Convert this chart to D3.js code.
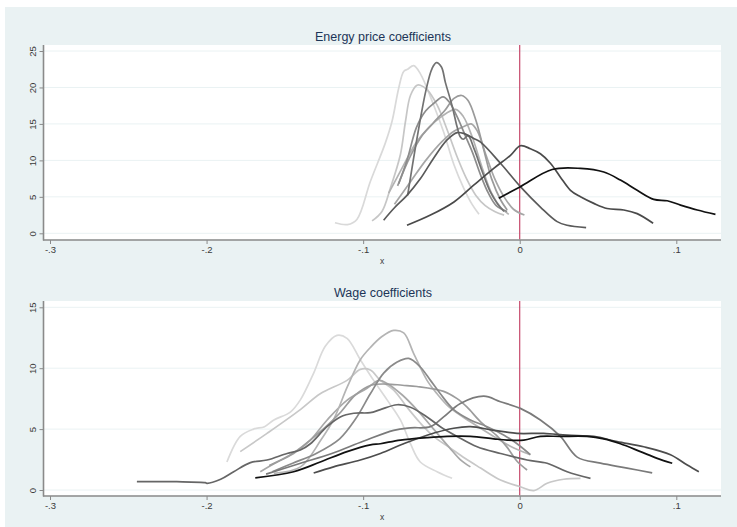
<!DOCTYPE html>
<html>
<head>
<meta charset="utf-8">
<script src="https://cdn.jsdelivr.net/npm/d3@7"></script>
<style>
  body { margin: 0; background: #fff; }
  svg { display: block; font-family: "Liberation Sans", Arial, sans-serif; }
</style>
</head>
<body>
<div id="chart"></div>
<script>
// tick values
const xTicks = [-0.3, -0.2, -0.1, 0, 0.1];
const energyYTicks = [0, 5, 10, 15, 20, 25];
const wageYTicks = [0, 5, 10, 15];

// kernel densities of the energy price coefficients, [x, density]
const energySeries = [
    [[-0.118,1.45],[-0.110,1.2],[-0.104,1.9],[-0.0954,7.1],[-0.0858,12.4],[-0.0815,15.4],[-0.0773,19.9],[-0.0741,22.2],[-0.0716,22.5],[-0.0677,23.0],[-0.0635,21.9],[-0.055,17.6],[-0.0486,13.9],[-0.042,9.4],[-0.0358,6.2],[-0.0304,3.96],[-0.026,2.6]],
    [[-0.0943,1.7],[-0.088,3.0],[-0.0826,6.2],[-0.0762,10.8],[-0.073,15.3],[-0.0698,18.9],[-0.0656,20.3],[-0.0635,20.3],[-0.0592,19.7],[-0.0528,17.6],[-0.046,14],[-0.040,10.5],[-0.034,7.5],[-0.028,5.2],[-0.022,3.8],[-0.016,3.0],[-0.010,2.5]],
    [[-0.0837,5.5],[-0.075,9],[-0.066,12.5],[-0.058,14.5],[-0.050,16],[-0.041,17],[-0.036,16],[-0.030,13],[-0.024,9],[-0.018,5.5],[-0.012,3.5],[-0.007,2.6]],
    [[-0.080,4],[-0.070,7],[-0.060,10],[-0.050,12.5],[-0.042,14],[-0.036,14.6],[-0.031,15],[-0.027,14],[-0.022,11],[-0.016,7.5],[-0.010,5],[-0.004,3.3],[0.003,2.5]],
    [[-0.078,6.5],[-0.070,10.5],[-0.062,13.5],[-0.055,15.2],[-0.048,16.8],[-0.042,18.5],[-0.037,18.9],[-0.033,18.2],[-0.028,15.5],[-0.023,11.5],[-0.018,7.5],[-0.012,4.5],[-0.008,3.2]],
    [[-0.0773,6.8],[-0.072,10],[-0.066,14.5],[-0.060,16.8],[-0.055,17.8],[-0.049,18.7],[-0.045,18],[-0.040,16],[-0.035,13.5],[-0.030,11],[-0.025,8],[-0.020,5.5],[-0.015,3.8],[-0.008,3.0]],
    [[-0.0716,5.2],[-0.068,10],[-0.064,15],[-0.060,19.5],[-0.056,22.6],[-0.0532,23.4],[-0.050,22.8],[-0.0475,20.7],[-0.0432,17.5],[-0.040,14.6],[-0.0379,13.2],[-0.036,12.9],[-0.033,13.4],[-0.029,11.5],[-0.024,8.5],[-0.019,5.8],[-0.014,4.0],[-0.010,3.0]],
    [[-0.0869,1.8],[-0.080,3.5],[-0.072,5.2],[-0.0634,7.5],[-0.055,10.3],[-0.0464,12.8],[-0.040,13.8],[-0.0358,13.7],[-0.0294,13.0],[-0.025,12.5],[-0.0123,9.6],[0.0004,6.4],[0.0132,3.6],[0.0239,1.6],[0.0303,1.1],[0.0424,0.77]],
    [[-0.072,1.1],[-0.057,2.5],[-0.042,4.3],[-0.0294,6.6],[-0.0166,8.9],[-0.0059,10.7],[0.0004,12.0],[0.0068,11.6],[0.0132,10.9],[0.0196,9.6],[0.026,7.7],[0.0324,5.9],[0.0388,5.0],[0.0473,4.1],[0.0558,3.4],[0.0665,3.2],[0.075,2.7],[0.0852,1.37]],
    [[-0.0134,4.8],[0.0004,6.4],[0.0207,8.75],[0.0388,8.9],[0.0537,8.4],[0.0643,7.3],[0.075,5.9],[0.0856,4.65],[0.0942,4.46],[0.1027,3.87],[0.1134,3.2],[0.125,2.6]]
];
const energyGrays = ["#d9d9d9", "#c6c6c6", "#b2b2b2", "#a6a6a6", "#9a9a9a", "#8c8c8c", "#727272", "#5a5a5a", "#4a4a4a", "#111111"];

// kernel densities of the wage coefficients
const wageSeries = [
    [[-0.187,2.3],[-0.1785,4.4],[-0.170,5.0],[-0.163,5.2],[-0.157,5.75],[-0.1465,6.4],[-0.1401,7.4],[-0.1316,9.6],[-0.1242,11.8],[-0.1167,12.7],[-0.1103,12.45],[-0.1018,10.7],[-0.0933,9.0],[-0.0847,7.4],[-0.0762,5.75],[-0.0698,3.8],[-0.0635,2.3],[-0.0528,1.5],[-0.0432,0.96]],
    [[-0.1785,3.15],[-0.1614,4.65],[-0.1401,6.6],[-0.1274,7.9],[-0.1103,9.0],[-0.1018,9.9],[-0.0954,9.85],[-0.089,9.0],[-0.0805,8.2],[-0.072,6.8],[-0.0635,5.5],[-0.055,4.4],[-0.045,3.5],[-0.035,2.6],[-0.025,1.8],[-0.0123,0.82],[0.0004,0.27],[0.009,-0.05],[0.0175,0.55],[0.0281,0.88],[0.0388,0.96]],
    [[-0.1657,1.5],[-0.155,2.3],[-0.1444,3.0],[-0.1337,4.1],[-0.123,5.75],[-0.110,7.4],[-0.0975,8.35],[-0.09,9.0],[-0.0847,8.75],[-0.075,7.8],[-0.065,6.5],[-0.055,5.0],[-0.045,3.5],[-0.038,2.5],[-0.0315,1.9]],
    [[-0.157,1.37],[-0.140,1.9],[-0.127,4.1],[-0.119,5.75],[-0.110,8.5],[-0.1018,10.7],[-0.0954,11.7],[-0.088,12.6],[-0.0805,13.1],[-0.0741,12.9],[-0.0677,11.2],[-0.0592,9.0],[-0.0528,7.9],[-0.045,6.8],[-0.0315,5.6],[-0.0166,4.4],[-0.006,3.6],[0.0068,2.9]],
    [[-0.160,2.0],[-0.145,3.0],[-0.130,4.5],[-0.115,6.3],[-0.105,7.8],[-0.095,8.6],[-0.085,8.7],[-0.075,8.6],[-0.0656,8.5],[-0.0486,8.1],[-0.040,7.5],[-0.0336,6.8],[-0.025,5.6],[-0.015,4.5],[-0.008,3.5],[-0.002,2.4],[0.0047,1.64]],
    [[-0.158,1.5],[-0.145,2.2],[-0.130,3.0],[-0.115,4.2],[-0.105,5.8],[-0.0954,7.9],[-0.0869,9.6],[-0.0783,10.5],[-0.0709,10.8],[-0.0635,10.1],[-0.057,9.0],[-0.0507,7.9],[-0.0422,6.6],[-0.0315,5.75],[-0.0208,5.2],[-0.010,4.5],[-0.0017,3.8],[0.0068,2.9]],
    [[-0.162,1.3],[-0.140,2.2],[-0.120,3.0],[-0.100,4.0],[-0.0805,4.9],[-0.0698,5.1],[-0.057,5.2],[-0.0486,6.0],[-0.0379,7.1],[-0.023,7.7],[-0.0123,7.25],[0.0004,6.7],[0.0132,5.75],[0.026,4.4],[0.0367,2.7],[0.0516,2.2],[0.0686,1.8],[0.0846,1.4]],
    [[-0.2445,0.68],[-0.219,0.68],[-0.2008,0.6],[-0.1998,0.55],[-0.191,0.88],[-0.1827,1.5],[-0.172,2.25],[-0.1614,2.46],[-0.1486,3.0],[-0.1401,3.28],[-0.1337,3.8],[-0.1231,5.2],[-0.1146,6.0],[-0.106,6.3],[-0.0954,6.35],[-0.089,6.6],[-0.0783,7.0],[-0.0698,6.8],[-0.0592,6.0],[-0.0507,5.2],[-0.04,4.4],[-0.0272,3.55],[-0.0123,3.0],[0.0047,2.46],[0.0175,2.2],[0.0303,1.5],[0.0452,0.96]],
    [[-0.1316,1.4],[-0.1189,1.9],[-0.1018,2.46],[-0.089,3.0],[-0.0741,3.8],[-0.0592,4.5],[-0.0422,5.07],[-0.0315,5.2],[-0.0166,4.9],[-0.0017,4.65],[0.0153,4.65],[0.0303,4.5],[0.0473,4.4],[0.0622,3.97],[0.0792,3.55],[0.0963,2.9],[0.107,2.05],[0.1144,1.5]],
    [[-0.1689,1.0],[-0.1444,1.5],[-0.1274,2.3],[-0.1103,3.15],[-0.0954,3.7],[-0.089,3.8],[-0.0762,4.1],[-0.0592,4.3],[-0.0464,4.4],[-0.0315,4.4],[-0.0166,4.2],[-0.008,4.1],[0.0026,4.1],[0.0132,4.4],[0.026,4.4],[0.043,4.4],[0.0537,4.2],[0.0643,3.8],[0.0771,3.15],[0.0878,2.6],[0.0974,2.2]]
];
const wageGrays = ["#dadada", "#c8c8c8", "#a8a8a8", "#b4b4b4", "#9c9c9c", "#8a8a8a", "#7a7a7a", "#666666", "#4d4d4d", "#111111"];

const width = 737, height = 527;
const bg = "#eaf2f3";

const svg = d3.select("#chart").append("svg")
    .attr("width", width)
    .attr("height", height);

svg.append("rect").attr("x", 5).attr("y", 7)
    .attr("width", width - 5).attr("height", height - 7)
    .attr("fill", bg);

// stata style labels: -.3, .1, 0 (plain hyphen)
const stataFmt = v => {
    if (Math.abs(v) < 1e-9) return "0";
    return String(+v.toFixed(2)).replace(/^(-?)0\./, "$1.");
};

const x = d3.scaleLinear().domain([-0.3, 0.1]).range([50, 676.3]);
const plotLeft = 44, plotRight = 721;

function drawPanel(opts) {
    const { title, titleY, top, bottom, y, yTicks, series, grays } = opts;
    const g = svg.append("g");

    g.append("rect")
        .attr("x", plotLeft).attr("y", top)
        .attr("width", plotRight - plotLeft).attr("height", bottom - top)
        .attr("fill", "#fff");

    // grid lines
    g.selectAll(".grid").data(yTicks).join("line")
        .attr("x1", plotLeft).attr("x2", plotRight)
        .attr("y1", d => y(d)).attr("y2", d => y(d))
        .attr("stroke", bg).attr("stroke-width", 1);

    // line at zero
    g.append("line")
        .attr("x1", x(0)).attr("x2", x(0))
        .attr("y1", top).attr("y2", bottom)
        .attr("stroke", "#c0385e").attr("stroke-width", 1.1);

    const line = d3.line()
        .x(d => x(d[0]))
        .y(d => y(d[1]))
        .curve(d3.curveCatmullRom.alpha(0.5));

    g.selectAll(".dens").data(series).join("path")
        .attr("d", line)
        .attr("fill", "none")
        .attr("stroke", (d, i) => grays[i])
        .attr("stroke-width", 1.7)
        .attr("stroke-linejoin", "round");

    // axes
    const yAxis = g.append("g")
        .attr("transform", `translate(${plotLeft - 0.5},0)`)
        .call(d3.axisLeft(y).tickValues(yTicks).tickSize(4).tickSizeOuter(0).tickFormat(stataFmt));
    yAxis.select(".domain").remove();
    yAxis.selectAll(".tick line").attr("stroke", "#8a8a8a");
    yAxis.selectAll(".tick text")
        .attr("transform", "rotate(-90)")
        .attr("x", 0).attr("y", -8).attr("dy", null)
        .attr("text-anchor", "middle")
        .attr("font-size", 9.5)
        .attr("fill", "#3a3a3a");
    g.append("line")
        .attr("x1", plotLeft - 0.5).attr("x2", plotLeft - 0.5)
        .attr("y1", top).attr("y2", bottom + 1)
        .attr("stroke", "#8a8a8a").attr("stroke-width", 1.6);

    const xAxis = g.append("g")
        .attr("transform", `translate(0,${bottom + 0.5})`)
        .call(d3.axisBottom(x).tickValues(xTicks).tickSize(4).tickSizeOuter(0).tickFormat(stataFmt));
    xAxis.select(".domain").remove();
    xAxis.selectAll(".tick line").attr("stroke", "#8a8a8a");
    xAxis.selectAll(".tick text")
        .attr("y", 6).attr("dy", "0.71em")
        .attr("font-size", 9.5)
        .attr("fill", "#3a3a3a");
    g.append("line")
        .attr("x1", plotLeft - 1).attr("x2", plotRight)
        .attr("y1", bottom + 0.5).attr("y2", bottom + 0.5)
        .attr("stroke", "#8a8a8a").attr("stroke-width", 1.6);

    g.append("text")
        .attr("x", 382).attr("y", bottom + 24)
        .attr("text-anchor", "middle")
        .attr("font-size", 8.5)
        .attr("fill", "#3a3a3a")
        .text("x");

    g.append("text")
        .attr("x", 383).attr("y", titleY)
        .attr("text-anchor", "middle")
        .attr("font-size", 12.5)
        .attr("fill", "#1c3557")
        .text(title);
}

drawPanel({
    title: "Energy price coefficients",
    titleY: 41,
    top: 45, bottom: 239.5,
    y: d3.scaleLinear().domain([0, 25]).range([233.3, 51]),
    yTicks: energyYTicks,
    series: energySeries,
    grays: energyGrays
});

drawPanel({
    title: "Wage coefficients",
    titleY: 297,
    top: 301, bottom: 495.5,
    y: d3.scaleLinear().domain([0, 15]).range([490, 307.3]),
    yTicks: wageYTicks,
    series: wageSeries,
    grays: wageGrays
});
</script>
</body>
</html>
